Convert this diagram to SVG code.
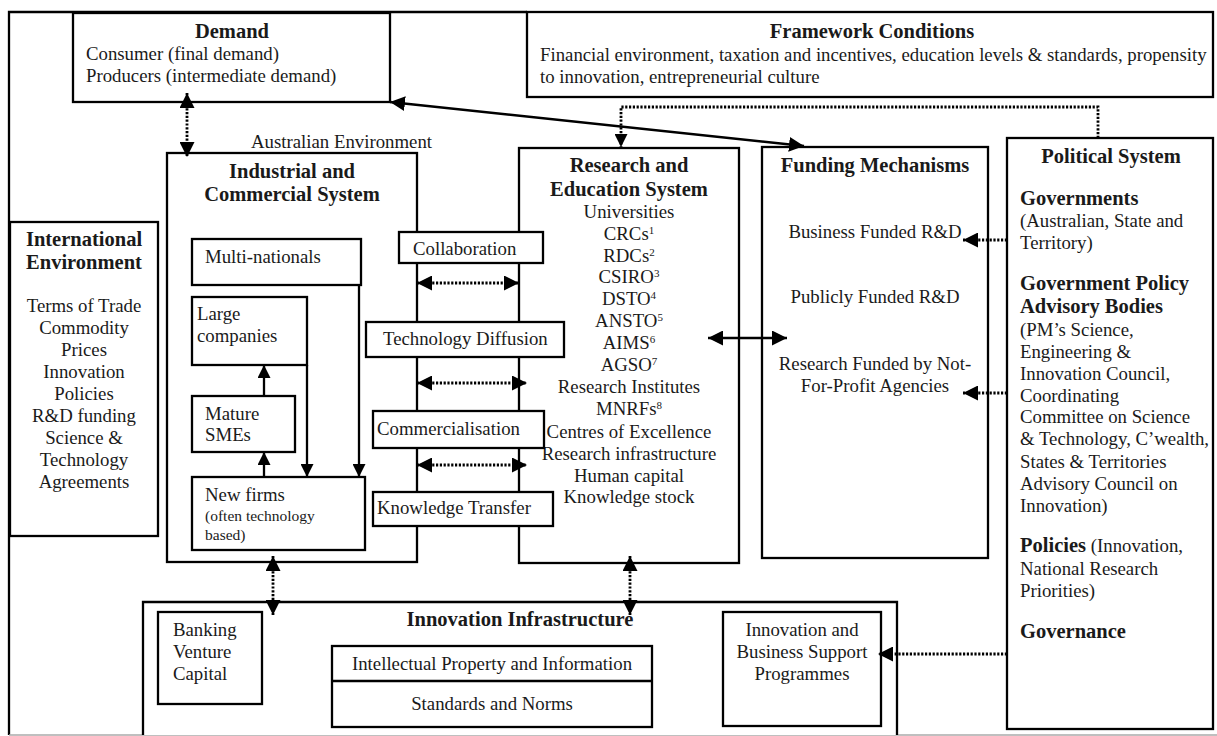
<svg xmlns="http://www.w3.org/2000/svg" width="1217" height="736" viewBox="0 0 1217 736">
<style>
text{font-family:"Liberation Serif","Times New Roman",serif;font-size:18.8px;fill:#1a1a1a}
.b{font-weight:bold;font-size:20.5px}
.c{text-anchor:middle}
.s{font-size:15.5px}
.sup{font-size:11px}
.box{fill:#fff;stroke:#000;stroke-width:2.3}
.ln{fill:none;stroke:#000;stroke-width:2.3}
.dot{fill:none;stroke:#000;stroke-width:2.8;stroke-dasharray:2.2 1.6}
.sol{fill:none;stroke:#000;stroke-width:2.5}
</style>
<defs>
<marker id="ah" viewBox="0 0 15 15" refX="15" refY="7.5" markerWidth="15" markerHeight="15" markerUnits="userSpaceOnUse" orient="auto-start-reverse">
<path d="M0,0 L15,7.5 L0,15 z" fill="#000"/>
</marker>
<marker id="as" viewBox="0 0 13 13" refX="13" refY="6.5" markerWidth="13" markerHeight="13" markerUnits="userSpaceOnUse" orient="auto-start-reverse">
<path d="M0,0 L13,6.5 L0,13 z" fill="#000"/>
</marker>
</defs>
<rect width="1217" height="736" fill="#fff"/>

<g id="frame">
<path class="ln" d="M527,12 H9 V735"/>
<line x1="9" y1="735" x2="1217" y2="735" stroke="#aaa" stroke-width="1.5"/>
<text x="251" y="148">Australian Environment</text>
</g>

<g id="demand">
<rect class="box" x="73" y="13" width="317" height="89"/>
<text class="b c" x="232" y="38">Demand</text>
<text x="86" y="60">Consumer (final demand)</text>
<text x="86" y="82">Producers (intermediate demand)</text>
</g>

<g id="framework">
<rect class="box" x="527" y="12" width="686" height="85"/>
<text class="b c" x="872" y="38">Framework Conditions</text>
<text x="540" y="61">Financial environment, taxation and incentives, education levels &amp; standards, propensity</text>
<text x="540" y="83">to innovation, entrepreneurial culture</text>
</g>

<g id="international">
<rect class="box" x="10" y="222" width="148" height="314"/>
<text class="b c" x="84" y="246">International</text>
<text class="b c" x="84" y="269">Environment</text>
<text class="c" x="84" y="312">Terms of Trade</text>
<text class="c" x="84" y="334">Commodity</text>
<text class="c" x="84" y="356">Prices</text>
<text class="c" x="84" y="378">Innovation</text>
<text class="c" x="84" y="400">Policies</text>
<text class="c" x="84" y="422">R&amp;D funding</text>
<text class="c" x="84" y="444">Science &amp;</text>
<text class="c" x="84" y="466">Technology</text>
<text class="c" x="84" y="488">Agreements</text>
</g>

<g id="industrial">
<rect class="box" x="167" y="153" width="250" height="409"/>
<text class="b c" x="292" y="178">Industrial and</text>
<text class="b c" x="292" y="201">Commercial System</text>
</g>

<g id="research">
<rect class="box" x="519" y="148" width="220" height="415"/>
<text class="b c" x="629" y="172">Research and</text>
<text class="b c" x="629" y="196">Education System</text>
<text class="c" x="629" y="218">Universities</text>
<text class="c" x="629" y="240">CRCs<tspan class="sup" dy="-6">1</tspan></text>
<text class="c" x="629" y="262">RDCs<tspan class="sup" dy="-6">2</tspan></text>
<text class="c" x="629" y="283">CSIRO<tspan class="sup" dy="-6">3</tspan></text>
<text class="c" x="629" y="305">DSTO<tspan class="sup" dy="-6">4</tspan></text>
<text class="c" x="629" y="327">ANSTO<tspan class="sup" dy="-6">5</tspan></text>
<text class="c" x="629" y="349">AIMS<tspan class="sup" dy="-6">6</tspan></text>
<text class="c" x="629" y="371">AGSO<tspan class="sup" dy="-6">7</tspan></text>
<text class="c" x="629" y="393">Research Institutes</text>
<text class="c" x="629" y="415">MNRFs<tspan class="sup" dy="-6">8</tspan></text>
<text class="c" x="629" y="438">Centres of Excellence</text>
<text class="c" x="629" y="460">Research infrastructure</text>
<text class="c" x="629" y="482">Human capital</text>
<text class="c" x="629" y="503">Knowledge stock</text>
</g>

<g id="funding">
<rect class="box" x="762" y="147" width="226" height="411"/>
<text class="b c" x="875" y="172">Funding Mechanisms</text>
<text class="c" x="875" y="238">Business Funded R&amp;D</text>
<text class="c" x="875" y="303">Publicly Funded R&amp;D</text>
<text class="c" x="875" y="370">Research Funded by Not-</text>
<text class="c" x="875" y="392">For-Profit Agencies</text>
</g>

<g id="political">
<rect class="box" x="1007" y="138" width="206" height="591"/>
<text class="b c" x="1111" y="163">Political System</text>
<text class="b" x="1020" y="205">Governments</text>
<text x="1020" y="227">(Australian, State and</text>
<text x="1020" y="249">Territory)</text>
<text class="b" x="1020" y="290">Government Policy</text>
<text class="b" x="1020" y="313">Advisory Bodies</text>
<text x="1020" y="336">(PM’s Science,</text>
<text x="1020" y="358">Engineering &amp;</text>
<text x="1020" y="380">Innovation Council,</text>
<text x="1020" y="402">Coordinating</text>
<text x="1020" y="423">Committee on Science</text>
<text x="1020" y="445">&amp; Technology, C’wealth,</text>
<text x="1020" y="468">States &amp; Territories</text>
<text x="1020" y="490">Advisory Council on</text>
<text x="1020" y="512">Innovation)</text>
<text x="1020" y="552"><tspan class="b">Policies</tspan> (Innovation,</text>
<text x="1020" y="575">National Research</text>
<text x="1020" y="597">Priorities)</text>
<text class="b" x="1020" y="638">Governance</text>
</g>

<g id="innovation-infrastructure">
<path class="box" d="M143,735 V602 H897 V735"/>
<text class="b c" x="520" y="626">Innovation Infrastructure</text>
</g>

<g id="banking">
<rect class="box" x="158" y="612" width="104" height="92"/>
<text x="173" y="636">Banking</text>
<text x="173" y="658">Venture</text>
<text x="173" y="680">Capital</text>
</g>

<g id="ip">
<rect class="box" x="332" y="646" width="320" height="81"/>
<line class="ln" x1="332" y1="681" x2="652" y2="681"/>
<text class="c" x="492" y="670">Intellectual Property and Information</text>
<text class="c" x="492" y="710">Standards and Norms</text>
</g>

<g id="support">
<rect class="box" x="723" y="612" width="158" height="114"/>
<text class="c" x="802" y="636">Innovation and</text>
<text class="c" x="802" y="658">Business Support</text>
<text class="c" x="802" y="680">Programmes</text>
</g>

<g id="multinationals">
<rect class="box" x="192" y="239" width="169" height="46"/>
<text x="205" y="263">Multi-nationals</text>
</g>
<g id="large">
<rect class="box" x="192" y="297" width="115" height="68"/>
<text x="197" y="320">Large</text>
<text x="197" y="342">companies</text>
</g>
<g id="mature">
<rect class="box" x="192" y="396" width="103" height="56"/>
<text x="205" y="420">Mature</text>
<text x="205" y="441">SMEs</text>
</g>
<g id="newfirms">
<rect class="box" x="192" y="477" width="173" height="73"/>
<text x="205" y="501">New firms</text>
<text class="s" x="205" y="521">(often technology</text>
<text class="s" x="205" y="540">based)</text>
</g>

<g id="collaboration">
<rect class="box" x="399" y="232" width="144" height="31"/>
<text x="413" y="255">Collaboration</text>
</g>
<g id="diffusion">
<rect class="box" x="366" y="322" width="198" height="35"/>
<text x="383" y="345">Technology Diffusion</text>
</g>
<g id="commercialisation">
<rect class="box" x="373" y="411" width="171" height="37"/>
<text x="377" y="435">Commercialisation</text>
</g>
<g id="transfer">
<rect class="box" x="373" y="492" width="180" height="34"/>
<text x="377" y="514">Knowledge Transfer</text>
</g>

<g id="connectors">
<line class="dot" x1="187" y1="93" x2="187" y2="157" marker-start="url(#ah)" marker-end="url(#ah)"/>
<line class="sol" x1="390" y1="102" x2="804" y2="146" marker-start="url(#ah)" marker-end="url(#ah)"/>
<polyline class="dot" points="1098,138 1098,107 621,107 621,147" marker-end="url(#as)"/>
<line class="dot" x1="417" y1="283" x2="519" y2="283" marker-start="url(#ah)" marker-end="url(#ah)"/>
<line class="dot" x1="417" y1="383" x2="527" y2="383" marker-start="url(#ah)" marker-end="url(#ah)"/>
<line class="dot" x1="417" y1="465" x2="527" y2="465" marker-start="url(#ah)" marker-end="url(#ah)"/>
<line class="sol" x1="708" y1="338" x2="787" y2="338" marker-start="url(#ah)" marker-end="url(#ah)"/>
<line class="dot" x1="1007" y1="240" x2="963" y2="240" marker-end="url(#ah)"/>
<line class="dot" x1="1007" y1="393" x2="963" y2="393" marker-end="url(#ah)"/>
<line class="dot" x1="1007" y1="654" x2="878" y2="654" marker-end="url(#ah)"/>
<line class="dot" x1="273" y1="556" x2="273" y2="615" marker-start="url(#ah)" marker-end="url(#ah)"/>
<line class="dot" x1="630" y1="556" x2="630" y2="615" marker-start="url(#ah)" marker-end="url(#ah)"/>
<line class="ln" x1="264" y1="396" x2="264" y2="365" marker-end="url(#as)"/>
<line class="ln" x1="264" y1="477" x2="264" y2="452" marker-end="url(#as)"/>
<line class="ln" x1="307" y1="365" x2="307" y2="477" marker-end="url(#as)"/>
<line class="ln" x1="359" y1="285" x2="359" y2="477" marker-end="url(#as)"/>
</g>
</svg>
